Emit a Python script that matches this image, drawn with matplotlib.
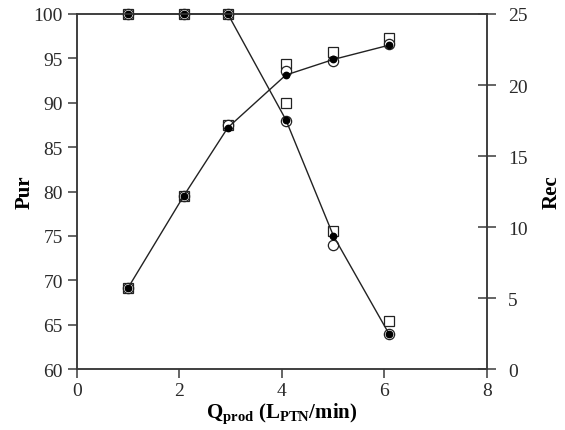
import matplotlib
matplotlib.use('Agg')
import matplotlib.pyplot as plt

plt.rcParams['font.family'] = ['Liberation Serif', 'DejaVu Serif']
plt.rcParams['mathtext.fontset'] = 'custom'
plt.rcParams['mathtext.rm'] = 'Liberation Serif'
plt.rcParams['mathtext.bf'] = 'Liberation Serif:bold'
plt.rcParams['mathtext.it'] = 'Liberation Serif:italic'

AXIS_COLOR = '#3a3a3a'
MARK_COLOR = '#222222'
LABEL_COLOR = '#2a2a2a'

# flow rates of the product stream
q_prod = [1.0, 2.09, 2.95, 4.08, 5.01, 6.09]

# purity (left axis): model line + two experimental sets
pur_model = [100.0, 100.0, 100.0, 88.1, 75.0, 64.0]
pur_circ = [100.0, 100.0, 100.0, 88.0, 74.0, 64.0]
pur_sq = [100.0, 100.0, 100.0, 90.0, 75.6, 65.4]

# recovery (right axis)
rec_model = [5.7, 12.2, 17.0, 20.7, 21.8, 22.8]
rec_circ = [5.7, 12.2, 17.2, 21.0, 21.7, 22.9]
rec_sq = [5.7, 12.2, 17.2, 21.5, 22.3, 23.3]

fig = plt.figure(figsize=(5.65, 4.31), dpi=100)
ax = fig.add_axes([0.1357, 0.1415, 0.7257, 0.8237])
ax2 = ax.twinx()

def draw_set(a, model, circ, sq):
    a.plot(q_prod, sq, ls='none', marker='s', ms=7.6, mfc='white', mec=MARK_COLOR, mew=0.9, zorder=3)
    a.plot(q_prod, circ, ls='none', marker='o', ms=7.4, mfc='white', mec=MARK_COLOR, mew=0.9, zorder=4)
    a.plot(q_prod, model, color=MARK_COLOR, lw=1.0, marker='o', ms=4.6, mfc='black', mec='black', zorder=5)

draw_set(ax, pur_model, pur_circ, pur_sq)
draw_set(ax2, rec_model, rec_circ, rec_sq)

ax.set_xlim(0, 8)
ax.set_ylim(60, 100)
ax2.set_ylim(0, 25)
ax.set_xticks([0, 2, 4, 6, 8])
ax.set_yticks(range(60, 101, 5))
ax2.set_yticks(range(0, 26, 5))

for a in (ax, ax2):
    for s in a.spines.values():
        s.set_color(AXIS_COLOR)
        s.set_linewidth(1.1)

ax.tick_params(axis='x', direction='out', length=6.5, width=1.1, color=AXIS_COLOR,
               labelsize=14, labelcolor=LABEL_COLOR, pad=3)
ax.tick_params(axis='y', direction='out', length=6.5, width=1.1, color=AXIS_COLOR,
               labelsize=14, labelcolor=LABEL_COLOR, pad=3.5)
ax2.tick_params(axis='y', direction='inout', length=13.5, width=1.1, color=AXIS_COLOR,
                labelsize=14, labelcolor=LABEL_COLOR, pad=8.5)

for line in ax.lines + ax2.lines:
    line.set_clip_on(False)

ax.set_ylabel('Pur', fontsize=15, fontweight='bold', labelpad=-1)
ax2.set_ylabel('Rec', fontsize=15, fontweight='bold', labelpad=10)
ax.set_xlabel(r'$\mathbf{Q_{prod}}$ $\mathbf{(L_{PTN}/min)}$', fontsize=15, labelpad=1)

fig.savefig('out.png', dpi=100)
